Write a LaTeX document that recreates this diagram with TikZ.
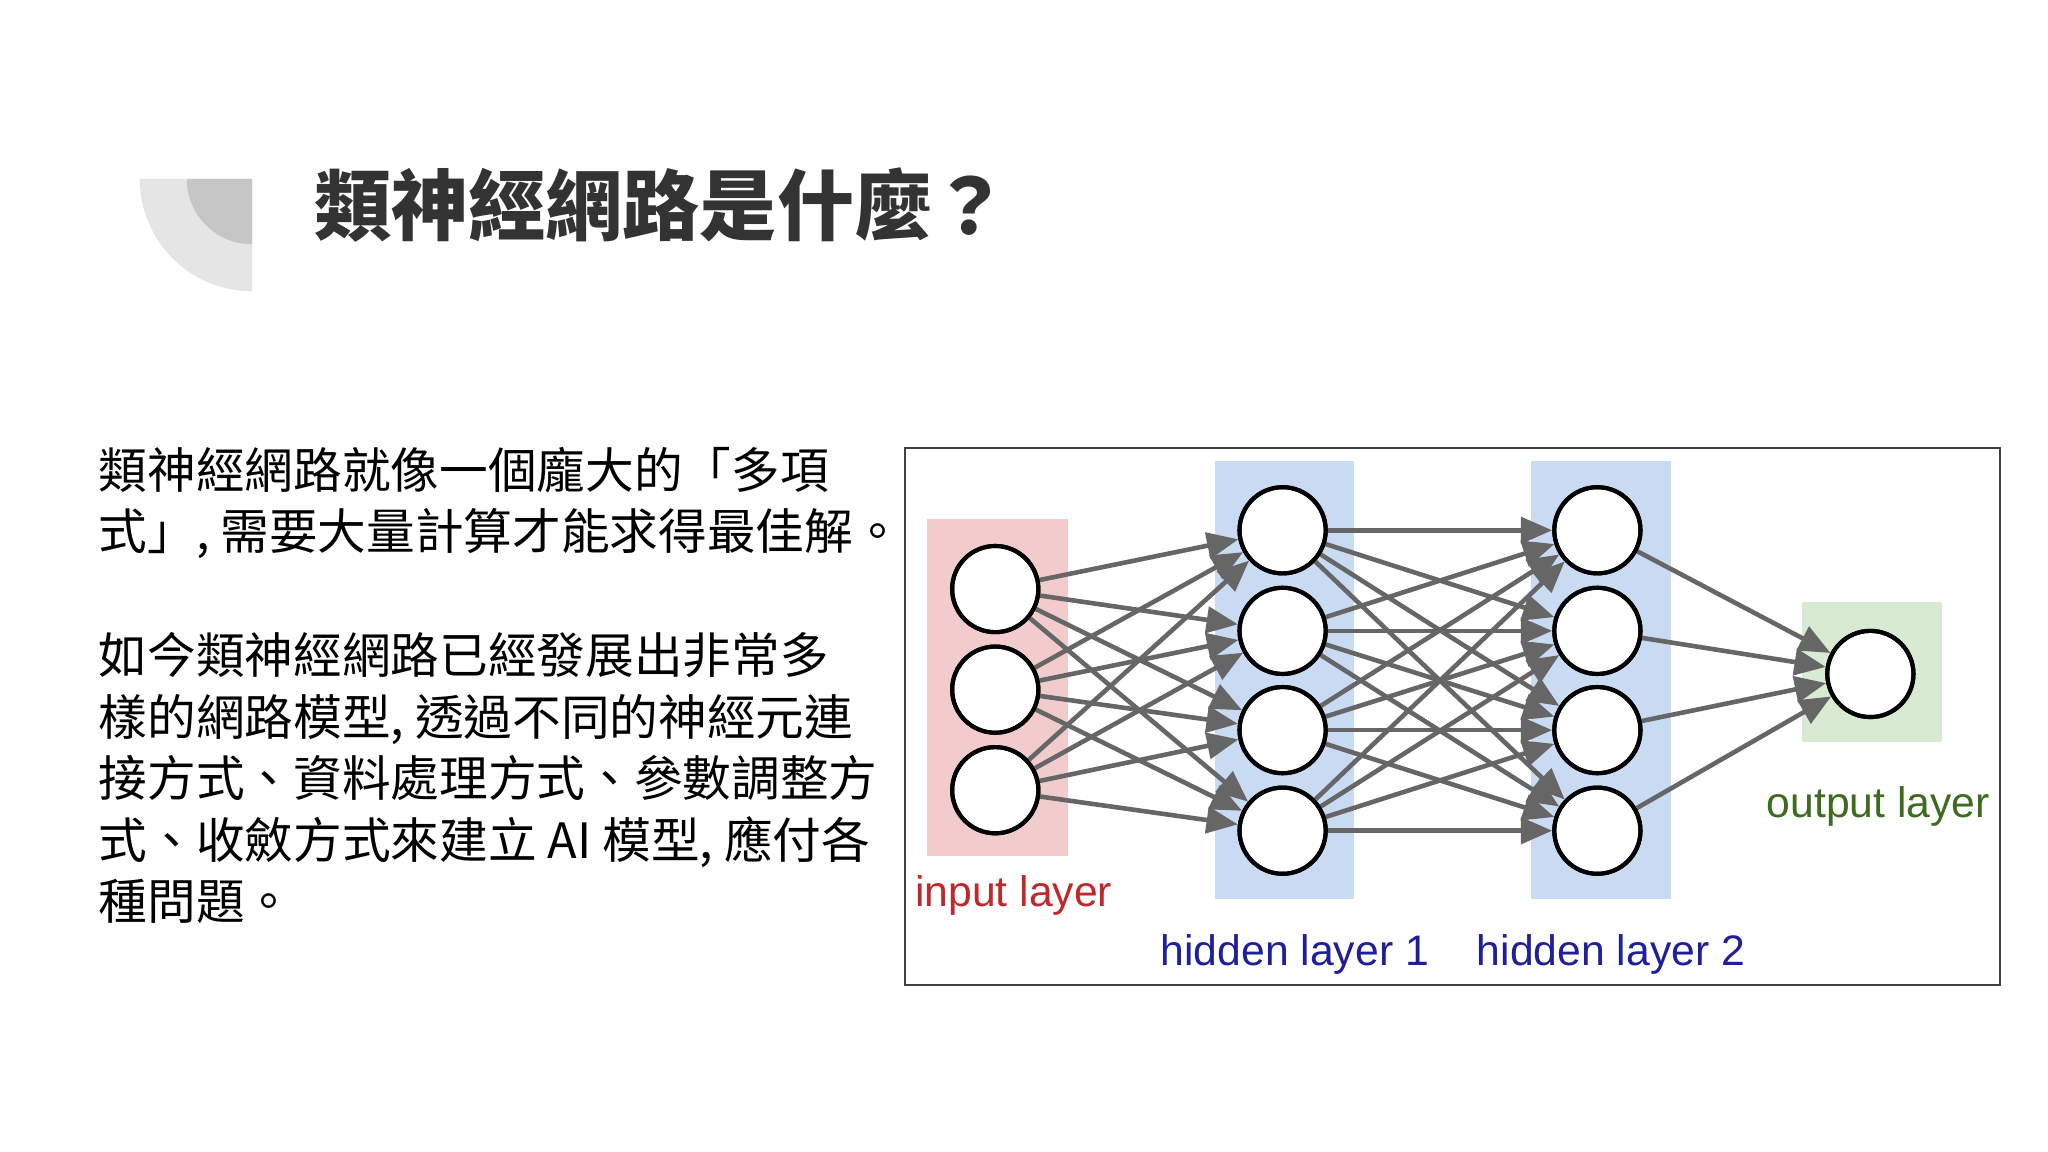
\documentclass[tikz,border=0pt]{standalone}
\usepackage{fontspec}
\setmainfont{Liberation Sans}
\newfontfamily\cjk{Noto Sans CJK TC}
\usetikzlibrary{arrows.meta}
\definecolor{pinkbg}{HTML}{F2CCCC}
\definecolor{bluebg}{HTML}{C9DAF3}
\definecolor{greenbg}{HTML}{D9EAD3}
\definecolor{edgegray}{HTML}{666666}
\definecolor{lblred}{HTML}{C0282B}
\definecolor{lblblue}{HTML}{1F1F9A}
\definecolor{lblgreen}{HTML}{3E6B1F}
\tikzset{
  neuron/.style={circle,draw=black,line width=0.9pt,fill=white,minimum size=6.6mm,inner sep=0},
  link/.style={draw=edgegray,line width=1pt,-{Triangle[length=2.4mm,width=2mm]}},
  bodytxt/.style={anchor=base west,font=\cjk\fontsize{10.6}{12}\selectfont,inner sep=0},
  lbl/.style={font=\fontsize{9.3}{11}\selectfont,inner sep=0,anchor=base west}
}
\begin{document}
\begin{tikzpicture}[x=0.1mm,y=-0.1mm]
\useasboundingbox[fill=white] (0,0) rectangle (1568,882);
% decoration
\fill[gray!20] (193,137) -- (107,137) arc[start angle=180,end angle=90,radius=86] -- cycle;
\fill[gray!45] (193,137) -- (143,137) arc[start angle=180,end angle=90,radius=50] -- cycle;
\node[anchor=west,inner sep=0,text=black!80,font=\cjk\bfseries\fontsize{16.8}{20}\selectfont] (title) at (240,157) {類神經網路是什麼？};
% body text
\node[bodytxt] (l1) at (75,374) {類神經網路就像一個龐大的「多項};
\node[bodytxt] (l2) at (75,421) {式」, 需要大量計算才能求得最佳解。};
\node[bodytxt] (l3) at (75,516) {如今類神經網路已經發展出非常多};
\node[bodytxt] (l4) at (75,563) {樣的網路模型, 透過不同的神經元連};
\node[bodytxt] (l5) at (75,610) {接方式、資料處理方式、參數調整方};
\node[bodytxt] (l6) at (75,657) {式、收斂方式來建立 AI 模型, 應付各};
\node[bodytxt] (l7) at (75,704) {種問題。};
% frame
\draw[black!75,line width=0.5pt] (693,343) rectangle (1531,754);
\fill[pinkbg] (710,397) rectangle (818,655);
\fill[bluebg] (930,353) rectangle (1037,688);
\fill[bluebg] (1172,353) rectangle (1279,688);
\fill[greenbg] (1380,461) rectangle (1487,568);
% neurons
\foreach \i/\y in {1/451,2/528,3/605} \node[neuron] (i\i) at (762,\y) {};
\foreach \i/\y in {1/406,2/483,3/559,4/636} {
  \node[neuron] (a\i) at (982,\y) {};
  \node[neuron] (b\i) at (1223,\y) {};
}
\node[neuron] (o) at (1432,516) {};
% links
\foreach \i in {1,2,3} \foreach \j in {1,2,3,4} \draw[link] (i\i) -- (a\j);
\foreach \i in {1,2,3,4} \foreach \j in {1,2,3,4} \draw[link] (a\i) -- (b\j);
\foreach \i in {1,2,3,4} \draw[link] (b\i) -- (o);
% redraw neurons on top
\foreach \n in {i1,i2,i3,a1,a2,a3,a4,b1,b2,b3,b4,o} \draw[black,line width=0.9pt] (\n.center) circle[radius=3.3mm];
% labels
\node[lbl,text=lblred] (li) at (700,694) {input layer};
\node[lbl,text=lblblue] (lh1) at (888,739) {hidden layer 1};
\node[lbl,text=lblblue] (lh2) at (1130,739) {hidden layer 2};
\node[lbl,text=lblgreen] (lo) at (1352,626) {output layer};
\end{tikzpicture}
\end{document}
